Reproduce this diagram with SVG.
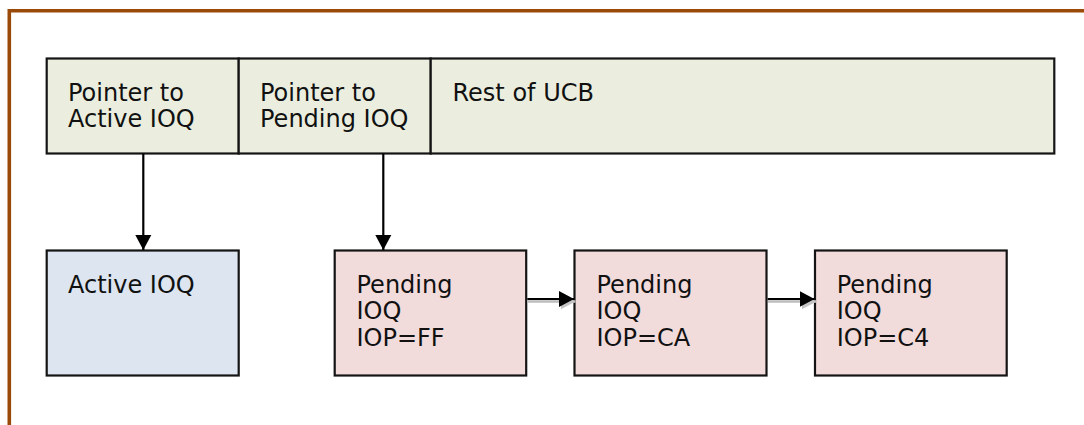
<svg xmlns="http://www.w3.org/2000/svg" width="1084" height="425" viewBox="0 0 1084 425">
  <style>
    .box { stroke: #141414; stroke-width: 2.2; }
    .ucb { fill: #EBEEDE; }
    .active { fill: #DCE5F0; }
    .pending { fill: #F2DBDB; }
    .label { font-family: "DejaVu Sans", Verdana, sans-serif; font-size: 24px; fill: #111; }
    .wire { stroke: #000; stroke-width: 2.2; fill: none; }
    .wire-shadow { stroke: #BDBDBD; stroke-width: 2.5; fill: none; }
    .frame { stroke: #9A4A08; stroke-width: 3.6; fill: none; }
  </style>
  <defs>
    <marker id="head" markerUnits="userSpaceOnUse" markerWidth="16" markerHeight="17" viewBox="0 0 16 17" refX="15" refY="8.5" orient="auto">
      <path d="M0,0.5 L15,8.5 L0,16.5 Z" fill="#000"/>
    </marker>
    <marker id="head-shadow" markerUnits="userSpaceOnUse" markerWidth="16" markerHeight="17" viewBox="0 0 16 17" refX="15" refY="8.5" orient="auto">
      <path d="M0,0.5 L15,8.5 L0,16.5 Z" fill="#C4C4C4"/>
    </marker>
  </defs>

  <rect width="1084" height="425" fill="#fff"/>

  <!-- page frame -->
  <path class="frame" d="M9.3,425 V10.8 H1084"/>

  <!-- unit control block -->
  <g id="ptr-active">
    <rect class="box ucb" x="46.7" y="58.5" width="192" height="95"/>
    <text class="label" x="68" y="100.5">Pointer to</text>
    <text class="label" x="68" y="127.2">Active IOQ</text>
  </g>
  <g id="ptr-pending">
    <rect class="box ucb" x="238.7" y="58.5" width="192" height="95"/>
    <text class="label" x="260" y="100.5">Pointer to</text>
    <text class="label" x="260" y="127.2">Pending IOQ</text>
  </g>
  <g id="rest-ucb">
    <rect class="box ucb" x="430.7" y="58.5" width="623.6" height="95"/>
    <text class="label" x="452.5" y="100.5">Rest of UCB</text>
  </g>

  <!-- queue elements -->
  <g id="active-ioq">
    <rect class="box active" x="46.7" y="250.5" width="192" height="125"/>
    <text class="label" x="68" y="292.5">Active IOQ</text>
  </g>
  <g id="pending-ff">
    <rect class="box pending" x="334.7" y="250.5" width="191.5" height="125"/>
    <text class="label" x="356.5" y="292.5">Pending</text>
    <text class="label" x="356.5" y="319">IOQ</text>
    <text class="label" x="356.5" y="345.5">IOP=FF</text>
  </g>
  <g id="pending-ca">
    <rect class="box pending" x="574.5" y="250.5" width="192" height="125"/>
    <text class="label" x="596.5" y="292.5">Pending</text>
    <text class="label" x="596.5" y="319">IOQ</text>
    <text class="label" x="596.5" y="345.5">IOP=CA</text>
  </g>
  <g id="pending-c4">
    <rect class="box pending" x="815" y="250.5" width="191.7" height="125"/>
    <text class="label" x="836.7" y="292.5">Pending</text>
    <text class="label" x="836.7" y="319">IOQ</text>
    <text class="label" x="836.7" y="345.5">IOP=C4</text>
  </g>

  <!-- connectors -->
  <g id="connectors">
    <line class="wire" x1="143.3" y1="153.5" x2="143.3" y2="250" marker-end="url(#head)"/>
    <line class="wire" x1="383.3" y1="153.5" x2="383.3" y2="250" marker-end="url(#head)"/>

    <line class="wire-shadow" x1="527.5" y1="301.5" x2="575.5" y2="301.5" marker-end="url(#head-shadow)"/>
    <line class="wire" x1="527.3" y1="299" x2="574" y2="299" marker-end="url(#head)"/>

    <line class="wire-shadow" x1="768" y1="301.5" x2="816.5" y2="301.5" marker-end="url(#head-shadow)"/>
    <line class="wire" x1="767.6" y1="299" x2="814.5" y2="299" marker-end="url(#head)"/>
  </g>
</svg>
